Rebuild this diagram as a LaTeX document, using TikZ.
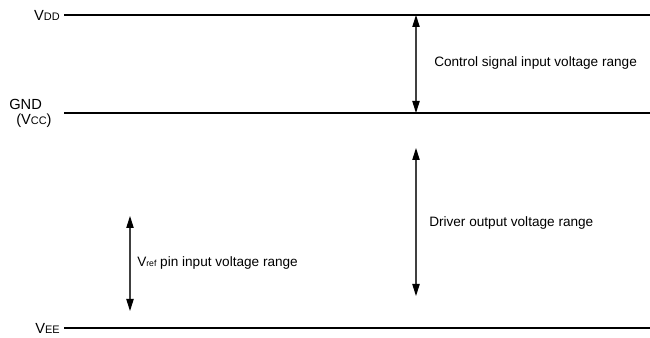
\documentclass[tikz,border=0pt]{standalone}
\usepackage{fontspec}
\setmainfont{Liberation Sans}
\usetikzlibrary{arrows.meta}
\newcommand{\smallcap}[1]{{\fontsize{8.2pt}{9pt}\selectfont #1}}
\begin{document}
\begin{tikzpicture}[x=0.75pt,y=-0.75pt,
  lvl/.style={line width=0.8pt, black},
  rng/.style={line width=0.8pt, black!75, {Triangle[length=9pt,width=5.5pt,black]}-{Triangle[length=9pt,width=5.5pt,black]}},
  lbl/.style={font=\fontsize{10.2pt}{12pt}\selectfont, inner sep=0pt, anchor=west},
  tag/.style={font=\fontsize{11pt}{12pt}\selectfont, inner sep=0pt}]
\useasboundingbox (0,0) rectangle (650,338);
% levels
\coordinate (vddL) at (64,15);  \coordinate (vddR) at (650,15);
\coordinate (gndL) at (64,113); \coordinate (gndR) at (650,113);
\coordinate (veeL) at (64,328); \coordinate (veeR) at (650,328);
\draw[lvl] (vddL) -- (vddR);
\draw[lvl] (gndL) -- (gndR);
\draw[lvl] (veeL) -- (veeR);
% level labels
\node[tag, anchor=east] (vdd) at (60,15) {V\smallcap{DD}};
\node[tag, anchor=west] (gnd) at (9,104) {GND};
\node[tag, anchor=west] (vcc) at (16,121) {(V\smallcap{CC})};
\node[tag, anchor=east] (vee) at (60,328) {V\smallcap{EE}};
% ranges
\coordinate (c1) at (416,15);  \coordinate (c2) at (416,113);
\coordinate (d1) at (416,148); \coordinate (d2) at (416,296);
\coordinate (r1) at (130,216); \coordinate (r2) at (130,311);
\draw[rng] (c1) -- (c2);
\draw[rng] (d1) -- (d2);
\draw[rng] (r1) -- (r2);
\node[lbl] (ctl) at (434,63) {Control signal input voltage range};
\node[lbl] (drv) at (429,223) {Driver output voltage range};
\node[lbl] (ref) at (137,263) {V{\fontsize{6.5pt}{7pt}\selectfont ref} pin input voltage range};
\end{tikzpicture}
\end{document}
